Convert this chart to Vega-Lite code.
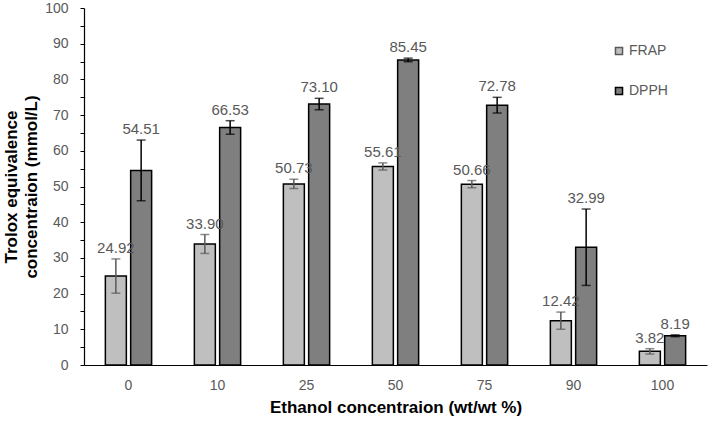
{
  "$schema": "https://vega.github.io/schema/vega-lite/v6.json",
  "width": 623,
  "height": 357,
  "autosize": {"type": "none"},
  "padding": {"left": 84, "top": 8, "right": 1, "bottom": 57},
  "config": {
    "font": "Liberation Sans",
    "view": {"stroke": null},
    "axis": {"grid": false, "domainColor": "#000000", "domainWidth": 1.2, "labelColor": "#595959", "labelFontSize": 14, "labelFont": "Liberation Sans", "titleFont": "Liberation Sans", "titleFontSize": 17, "titleFontWeight": "bold", "titleColor": "#000000"},
    "axisY": {"labelOverlap": false, "labelBound": false, "tickSize": 4, "tickColor": "#000000", "labelPadding": 12}
  },
  "data": {
    "values": [
      {"cat": "0", "series": "FRAP", "value": 24.92, "lo": 20.12, "hi": 29.72},
      {"cat": "0", "series": "DPPH", "value": 54.51, "lo": 46.01, "hi": 63.01},
      {"cat": "10", "series": "FRAP", "value": 33.90, "lo": 31.25, "hi": 36.55},
      {"cat": "10", "series": "DPPH", "value": 66.53, "lo": 64.63, "hi": 68.43},
      {"cat": "25", "series": "FRAP", "value": 50.73, "lo": 49.43, "hi": 52.03},
      {"cat": "25", "series": "DPPH", "value": 73.10, "lo": 71.50, "hi": 74.70},
      {"cat": "50", "series": "FRAP", "value": 55.61, "lo": 54.61, "hi": 56.61},
      {"cat": "50", "series": "DPPH", "value": 85.45, "lo": 84.95, "hi": 85.95},
      {"cat": "75", "series": "FRAP", "value": 50.66, "lo": 49.66, "hi": 51.66},
      {"cat": "75", "series": "DPPH", "value": 72.78, "lo": 70.58, "hi": 74.98},
      {"cat": "90", "series": "FRAP", "value": 12.42, "lo": 10.02, "hi": 14.82},
      {"cat": "90", "series": "DPPH", "value": 32.99, "lo": 22.29, "hi": 43.69},
      {"cat": "100", "series": "FRAP", "value": 3.82, "lo": 3.07, "hi": 4.57},
      {"cat": "100", "series": "DPPH", "value": 8.19, "lo": 7.94, "hi": 8.44}
    ]
  },
  "encoding": {
    "x": {
      "field": "cat", "type": "nominal", "sort": null,
      "scale": {"paddingInner": 0.48, "paddingOuter": 0.24},
      "axis": {"title": "Ethanol concentraion (wt/wt %)", "labelAngle": 0, "ticks": false, "labelPadding": 13, "titlePadding": 7}
    },
    "xOffset": {"field": "series", "type": "nominal", "sort": ["FRAP", "DPPH"], "scale": {"paddingInner": 0.17}}
  },
  "layer": [
    {
      "mark": {"type": "bar", "stroke": "#000000", "strokeWidth": 1.5},
      "encoding": {
        "y": {
          "field": "value", "type": "quantitative",
          "scale": {"domain": [0, 100], "nice": false},
          "axis": {
            "title": ["Trolox equivalence", "concentraion (mmol/L)"],
            "titleLineHeight": 20, "titleX": -68, "titleBaseline": "alphabetic",
            "values": [0,5,10,15,20,25,30,35,40,45,50,55,60,65,70,75,80,85,90,95,100],
            "labelExpr": "datum.value % 10 === 0 ? datum.label : ''",
            "labelOverlap": false
          }
        },
        "fill": {
          "field": "series", "type": "nominal", "sort": ["FRAP", "DPPH"],
          "scale": {"domain": ["FRAP", "DPPH"], "range": ["#bfbfbf", "#7f7f7f"]},
          "legend": {
            "title": null, "orient": "none", "legendX": 528, "legendY": 36,
            "symbolType": "square", "symbolSize": 50, "symbolStrokeColor": "#000000", "symbolStrokeWidth": 1.5,
            "labelFontSize": 14, "labelColor": "#595959", "labelFont": "Liberation Sans", "rowPadding": 26, "labelOffset": 3
          }
        }
      }
    },
    {
      "mark": {"type": "rule", "strokeWidth": 1.5},
      "encoding": {
        "y": {"field": "lo", "type": "quantitative",
          "axis": {
            "title": ["Trolox equivalence", "concentraion (mmol/L)"],
            "titleLineHeight": 20, "titleX": -68, "titleBaseline": "alphabetic",
            "values": [0,5,10,15,20,25,30,35,40,45,50,55,60,65,70,75,80,85,90,95,100],
            "labelExpr": "datum.value % 10 === 0 ? datum.label : ''",
            "labelOverlap": false
          }},
        "y2": {"field": "hi"},
        "stroke": {"field": "series", "type": "nominal", "scale": {"domain": ["FRAP", "DPPH"], "range": ["#595959", "#000000"]}, "legend": null}
      }
    },
    {
      "mark": {"type": "tick", "size": 9, "thickness": 1.5},
      "encoding": {
        "y": {"field": "lo", "type": "quantitative",
          "axis": {
            "title": ["Trolox equivalence", "concentraion (mmol/L)"],
            "titleLineHeight": 20, "titleX": -68, "titleBaseline": "alphabetic",
            "values": [0,5,10,15,20,25,30,35,40,45,50,55,60,65,70,75,80,85,90,95,100],
            "labelExpr": "datum.value % 10 === 0 ? datum.label : ''",
            "labelOverlap": false
          }},
        "color": {"field": "series", "type": "nominal", "scale": {"domain": ["FRAP", "DPPH"], "range": ["#595959", "#000000"]}, "legend": null}
      }
    },
    {
      "mark": {"type": "tick", "size": 9, "thickness": 1.5},
      "encoding": {
        "y": {"field": "hi", "type": "quantitative",
          "axis": {
            "title": ["Trolox equivalence", "concentraion (mmol/L)"],
            "titleLineHeight": 20, "titleX": -68, "titleBaseline": "alphabetic",
            "values": [0,5,10,15,20,25,30,35,40,45,50,55,60,65,70,75,80,85,90,95,100],
            "labelExpr": "datum.value % 10 === 0 ? datum.label : ''",
            "labelOverlap": false
          }},
        "color": {"field": "series", "type": "nominal", "scale": {"domain": ["FRAP", "DPPH"], "range": ["#595959", "#000000"]}, "legend": null}
      }
    },
    {
      "mark": {"type": "text", "baseline": "alphabetic", "dy": -6, "fontSize": 15, "color": "#595959"},
      "encoding": {
        "y": {"field": "hi", "type": "quantitative",
          "axis": {
            "title": ["Trolox equivalence", "concentraion (mmol/L)"],
            "titleLineHeight": 20, "titleX": -68, "titleBaseline": "alphabetic",
            "values": [0,5,10,15,20,25,30,35,40,45,50,55,60,65,70,75,80,85,90,95,100],
            "labelExpr": "datum.value % 10 === 0 ? datum.label : ''",
            "labelOverlap": false
          }},
        "text": {"field": "value", "type": "quantitative", "format": ".2f"}
      }
    }
  ]
}
